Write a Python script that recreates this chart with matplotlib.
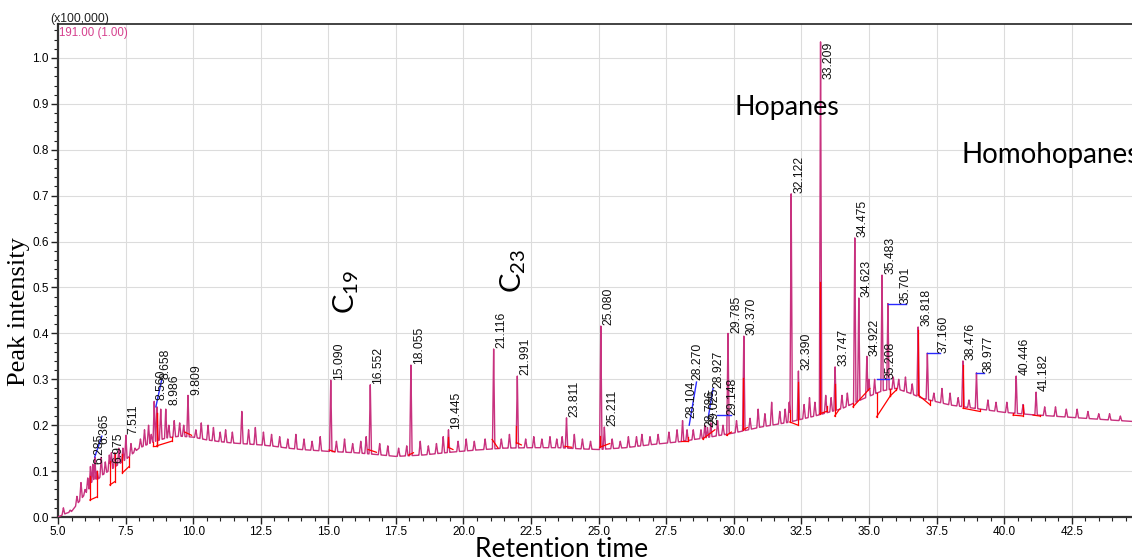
import numpy as np
import matplotlib
matplotlib.use('Agg')
import matplotlib.pyplot as plt
from matplotlib.ticker import MultipleLocator, FormatStrFormatter

plt.rcParams['font.family'] = ['Liberation Sans', 'DejaVu Sans']
plt.rcParams['path.simplify'] = False

# baseline of the trace (retention time, intensity x100,000)
base_rt = [5.0, 5.3, 5.5, 5.8, 6.0, 6.3, 6.6, 7.0, 7.5, 8.0, 8.5, 9.0, 9.5, 10.0,
           10.5, 11.0, 11.5, 12.0, 12.5, 13.0, 13.5, 14.0, 15.0, 16.0, 16.8, 17.5,
           18.5, 19.5, 20.5, 21.5, 22.5, 23.5, 24.5, 25.0, 26.0, 27.0, 28.0, 29.0,
           30.0, 31.0, 32.0, 33.0, 34.0, 34.8, 35.5, 36.0, 36.5, 37.0, 38.0, 39.0,
           40.0, 41.0, 42.0, 43.0, 44.0, 44.8]
base_val = [0.0, 0.008, 0.012, 0.035, 0.05, 0.07, 0.09, 0.105, 0.125, 0.15, 0.163, 0.172,
            0.176, 0.174, 0.168, 0.164, 0.161, 0.159, 0.157, 0.154, 0.15, 0.147, 0.143,
            0.14, 0.136, 0.132, 0.135, 0.141, 0.146, 0.15, 0.151, 0.151, 0.148, 0.147,
            0.151, 0.158, 0.164, 0.173, 0.183, 0.196, 0.206, 0.22, 0.236, 0.258, 0.275,
            0.28, 0.27, 0.258, 0.244, 0.236, 0.228, 0.223, 0.219, 0.215, 0.211, 0.208]

# labelled peaks
peak_lbl = ['6.285', '6.365', '6.975', '7.511', '8.560', '8.658', '8.986', '9.809',
            '15.090', '16.552', '18.055', '19.445', '21.116', '21.991', '23.811',
            '25.080', '25.211', '28.104', '28.270', '28.786', '28.927', '29.025',
            '29.148', '29.785', '30.370', '32.122', '32.390', '33.209', '33.747',
            '34.475', '34.623', '34.922', '35.208', '35.483', '35.701', '36.818',
            '37.160', '38.476', '38.977', '40.446', '41.182']
peak_top = [0.115, 0.13, 0.14, 0.178, 0.252, 0.24, 0.235, 0.265,
            0.298, 0.288, 0.331, 0.19, 0.366, 0.307, 0.216,
            0.416, 0.196, 0.21, 0.19, 0.19, 0.2, 0.195,
            0.205, 0.40, 0.394, 0.704, 0.318, 1.035, 0.327,
            0.608, 0.477, 0.35, 0.30, 0.527, 0.465, 0.414,
            0.357, 0.34, 0.314, 0.307, 0.272]

# smaller unlabelled spikes
minor_rt = [5.2, 5.45, 5.7, 5.85, 6.0, 6.1, 6.2, 6.45, 6.6, 6.75, 6.9, 7.1, 7.25, 7.4,
            7.7, 7.85, 8.05, 8.2, 8.35, 8.45, 8.8, 9.1, 9.3, 9.5, 9.65, 10.1, 10.3,
            10.55, 10.75, 11.0, 11.2, 11.45, 11.8, 12.05, 12.3, 12.6, 12.9, 13.2,
            13.5, 13.8, 14.1, 14.4, 14.7, 15.3, 15.6, 15.9, 16.2, 16.4, 16.9, 17.2,
            17.6, 17.9, 18.4, 18.7, 19.0, 19.25, 19.8, 20.1, 20.4, 20.8, 21.4, 21.7,
            22.3, 22.6, 22.9, 23.2, 23.45, 23.65, 24.1, 24.4, 24.7, 25.5, 25.8, 26.1,
            26.4, 26.6, 26.9, 27.2, 27.6, 27.9, 28.5, 29.4, 29.6, 30.1, 30.6, 30.9,
            31.15, 31.4, 31.7, 31.9, 32.05, 32.6, 32.8, 33.0, 33.4, 33.6, 34.0, 34.2,
            35.0, 35.9, 36.1, 36.35, 36.6, 37.4, 37.7, 38.0, 38.3, 38.7, 39.4, 39.7,
            40.1, 40.7, 41.5, 41.9, 42.3, 42.7, 43.1, 43.5, 43.9, 44.3]
minor_top = [0.02, 0.015, 0.045, 0.075, 0.06, 0.085, 0.11, 0.1, 0.13, 0.12, 0.135, 0.14,
             0.15, 0.15, 0.16, 0.15, 0.17, 0.19, 0.2, 0.18, 0.235, 0.2, 0.21, 0.205,
             0.2, 0.19, 0.205, 0.2, 0.195, 0.185, 0.19, 0.185, 0.23, 0.19, 0.195, 0.185,
             0.18, 0.175, 0.17, 0.18, 0.17, 0.165, 0.175, 0.165, 0.17, 0.16, 0.165,
             0.175, 0.16, 0.155, 0.15, 0.155, 0.165, 0.155, 0.16, 0.175, 0.165, 0.17,
             0.165, 0.17, 0.17, 0.18, 0.17, 0.175, 0.17, 0.175, 0.17, 0.175, 0.18, 0.17,
             0.165, 0.17, 0.165, 0.175, 0.175, 0.18, 0.175, 0.18, 0.185, 0.19, 0.19,
             0.21, 0.2, 0.21, 0.215, 0.235, 0.225, 0.25, 0.23, 0.235, 0.25, 0.245, 0.26,
             0.25, 0.265, 0.26, 0.265, 0.27, 0.3, 0.305, 0.3, 0.305, 0.29, 0.27, 0.28,
             0.27, 0.26, 0.255, 0.255, 0.25, 0.25, 0.245, 0.24, 0.24, 0.235, 0.235,
             0.23, 0.225, 0.225, 0.22]

# integration baselines (red)
rb_t0 = [6.18, 6.92, 7.38, 8.5, 8.65, 9.69, 15.03, 16.47, 17.97, 19.43, 21.06, 21.96,
         23.75, 25.04, 28.05, 28.85, 29.73, 30.35, 32.07, 33.18, 33.73, 34.41, 35.28,
         35.79, 36.82, 38.48, 40.33, 41.07]
rb_v0 = [0.037, 0.07, 0.096, 0.155, 0.155, 0.185, 0.146, 0.147, 0.135, 0.152, 0.169,
         0.162, 0.154, 0.152, 0.165, 0.17, 0.178, 0.19, 0.207, 0.225, 0.22, 0.24, 0.218,
         0.264, 0.266, 0.237, 0.222, 0.222]
rb_t1 = [6.45, 7.1, 7.63, 8.65, 9.2, 9.94, 15.24, 16.78, 18.15, 19.61, 21.28, 22.14,
         23.99, 25.41, 28.3, 29.3, 29.91, 30.5, 32.38, 33.43, 33.91, 35.03, 35.79,
         36.0, 37.25, 39.1, 40.7, 41.32]
rb_v1 = [0.044, 0.077, 0.11, 0.155, 0.165, 0.178, 0.142, 0.141, 0.14, 0.147, 0.15,
         0.157, 0.152, 0.16, 0.165, 0.19, 0.185, 0.195, 0.2, 0.23, 0.235, 0.28, 0.264,
         0.276, 0.245, 0.23, 0.22, 0.22]

# labels moved off their peak: label -> (leader end rt, leader end val, text rt, text val)
moved = {
    '6.285': (None, None, 6.30, 0.115),
    '6.365': (6.62, 0.176, 6.48, 0.158),
    '6.975': (None, None, 7.0, 0.117),
    '7.511': (None, None, 7.56, 0.18),
    '8.560': (None, None, 8.62, 0.254),
    '8.658': (8.84, 0.30, 8.74, 0.30),
    '8.986': (None, None, 9.1, 0.243),
    '28.104': (None, None, 28.22, 0.215),
    '28.270': (28.62, 0.294, 28.43, 0.298),
    '28.786': (None, None, 28.9, 0.196),
    '28.927': (29.23, 0.28, 29.2, 0.28),
    '29.025': (None, None, 29.06, 0.2),
    '29.148': (29.91, 0.223, 29.72, 0.223),
    '35.208': (35.75, 0.30, 35.56, 0.30),
    '35.701': (36.36, 0.465, 36.12, 0.465),
    '37.160': (37.62, 0.357, 37.54, 0.357),
    '38.977': (39.25, 0.314, 39.2, 0.314),
}
leader_start = {'6.365': (6.36, 0.131), '8.658': (8.62, 0.24), '28.270': (28.35, 0.20),
                '28.927': (29.05, 0.215), '29.148': (29.36, 0.223), '35.208': (35.30, 0.30)}

trace_col = '#c8327f'

peak_rt = [float(s) for s in peak_lbl]
t = np.union1d(np.arange(5.0, 44.76, 0.004), peak_rt + minor_rt)
y = np.interp(t, base_rt, base_val)
for p, top in zip(peak_rt, peak_top):
    amp = top - np.interp(p, base_rt, base_val)
    y = y + amp * np.clip(1 - np.abs(t - p) / 0.045, 0, None)
for p, top in zip(minor_rt, minor_top):
    amp = top - np.interp(p, base_rt, base_val)
    y = y + amp * np.clip(1 - np.abs(t - p) / 0.05, 0, None)

fig = plt.figure(figsize=(11.32, 5.6), dpi=100)
ax = fig.add_axes([58 / 1132, 43 / 560, 1074 / 1132, 493 / 560])

ax.plot(t, y, color=trace_col, lw=1.0, zorder=3)

for t0, v0, t1, v1 in zip(rb_t0, rb_v0, rb_t1, rb_v1):
    ax.plot([t0, t1], [v0, v1], color='red', lw=0.9, zorder=4)
    for tt, vv in ((t0, v0), (t1, v1)):
        yy = np.interp(tt, t, y)
        if yy > vv:
            ax.plot([tt, tt], [vv, yy], color='red', lw=0.9, zorder=4)

for lbl, p, top in zip(peak_lbl, peak_rt, peak_top):
    if lbl in moved:
        le_t, le_v, tx, tv = moved[lbl]
        if le_t is not None:
            s_t, s_v = leader_start.get(lbl, (p, top))
            ax.plot([s_t, le_t], [s_v, le_v], color='#2a2aff', lw=1.0, zorder=5)
        ax.text(tx, tv, lbl, rotation=90, ha='left', va='bottom', fontsize=8.7,
                color='#111111', zorder=6)
    elif top > 1.0:
        # too close to the frame: label hangs down beside the peak
        ax.annotate(lbl, (p, top), xytext=(1.5, 0), textcoords='offset points',
                    rotation=90, ha='left', va='top', fontsize=8.7, color='#111111',
                    zorder=6)
    else:
        ax.annotate(lbl, (p, top), xytext=(1.5, 0.5), textcoords='offset points',
                    rotation=90, ha='left', va='bottom', fontsize=8.7, color='#111111',
                    zorder=6)

ax.set_xlim(5.0, 44.73)
ax.set_ylim(0.0, 1.074)
ax.xaxis.set_major_locator(MultipleLocator(2.5))
ax.xaxis.set_minor_locator(MultipleLocator(0.5))
ax.yaxis.set_major_locator(MultipleLocator(0.1))
ax.yaxis.set_minor_locator(MultipleLocator(0.02))
ax.xaxis.set_major_formatter(FormatStrFormatter('%.1f'))
ax.yaxis.set_major_formatter(FormatStrFormatter('%.1f'))
ax.tick_params(which='major', length=5, width=1.0, labelsize=8.5, pad=1.5, color='#222222')
ax.tick_params(which='minor', length=3, width=0.8, color='#222222')
ax.grid(True, which='major', color='#dcdcdc', lw=0.8, zorder=0)
ax.set_axisbelow(True)

for side in ['left', 'bottom']:
    ax.spines[side].set_color('#333333')
    ax.spines[side].set_linewidth(1.6)
ax.spines['top'].set_color('#222222')
ax.spines['top'].set_linewidth(1.2)
ax.spines['right'].set_visible(False)

fig.text(19 / 1132, 1 - 312 / 560, 'Peak intensity', family='Liberation Serif',
         fontsize=19, rotation=90, ha='center', va='center')
fig.text(562 / 1132, 1 - 557 / 560, 'Retention time', family='Lato', fontsize=19,
         ha='center', va='baseline')

fig.text(50 / 1132, 1 - 22 / 560, '(x100,000)', fontsize=8.8, color='#222222')
ax.text(5.02, 1.068, '191.00 (1.00)', fontsize=8.3, color='#d6408e', va='top', ha='left')

ax.text(15.11, 0.443, r'$\mathregular{C_{19}}$', rotation=90, family='Lato', fontsize=21,
        ha='left', va='bottom')
ax.text(21.30, 0.487, r'$\mathregular{C_{23}}$', rotation=90, family='Lato', fontsize=21,
        ha='left', va='bottom')
ax.text(30.03, 0.876, 'Hopanes', family='Lato', fontsize=19.3, ha='left', va='baseline')
# the label runs past the right edge of the figure, as in the source chart
ax.text(38.44, 0.772, 'Homohopanes', family='Lato', fontsize=20, ha='left', va='baseline',
        clip_on=False)

fig.savefig('out.png', dpi=100)
